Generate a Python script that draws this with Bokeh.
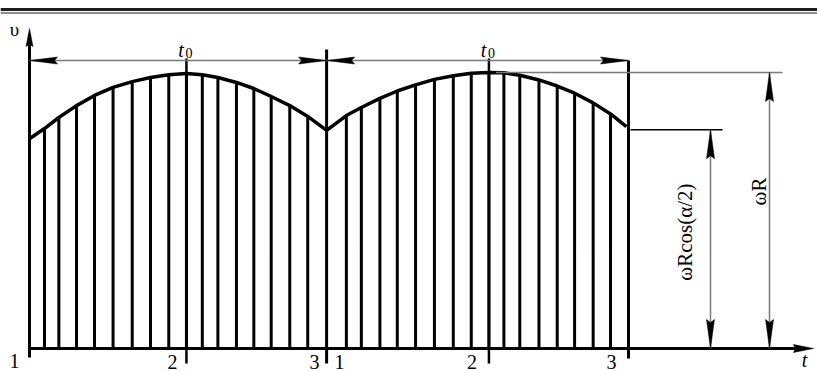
import numpy as np
from bokeh.plotting import figure
from bokeh.models import Range1d, Span
from bokeh.core.properties import value
from bokeh.embed import file_html
from bokeh.resources import INLINE

W, H = 817, 371

# Speed v(t) over two revolutions: t in units of t0, v in units of ωR.
rev1_t = [0.000, 0.050, 0.098, 0.157, 0.217, 0.279, 0.343, 0.404, 0.465,
          0.524, 0.577, 0.629, 0.691, 0.749, 0.807, 0.869, 0.929, 0.992]
rev1_v = [0.760, 0.797, 0.837, 0.880, 0.917, 0.946, 0.967, 0.982, 0.992,
          0.996, 0.992, 0.982, 0.964, 0.942, 0.913, 0.880, 0.841, 0.790]
rev2_t = [0.992, 1.058, 1.108, 1.170, 1.228, 1.289, 1.352, 1.415, 1.475,
          1.534, 1.584, 1.637, 1.701, 1.762, 1.820, 1.882, 1.940, 1.993]
rev2_v = [0.790, 0.844, 0.873, 0.906, 0.933, 0.955, 0.975, 0.988, 0.997,
          1.000, 0.999, 0.990, 0.973, 0.951, 0.925, 0.890, 0.850, 0.804]

rev_edges = [0.0, 0.992, 2.0]     # points 1 and 3 between revolutions
rev_mid = [0.524, 1.534]          # point 2 of each revolution
point_labels = ["1", "2", "3", "1", "2", "3"]
omega_R = 1.0                     # peak speed ωR
omega_R_cos = 0.793               # ωR·cos(α/2)

# ---- view: pixels per unit and origin placement
SX, SY = 299.5, 276.0
ORIGIN_X, ORIGIN_Y = 29.0, 348.0
x_start = -ORIGIN_X / SX
y_start = -(H - ORIGIN_Y) / SY
x_range = Range1d(x_start, x_start + W / SX)
y_range = Range1d(y_start, y_start + H / SY)


def dx(px):
    return px / SX


def dy(px):
    return px / SY


p = figure(width=W, height=H, x_range=x_range, y_range=y_range,
           x_axis_type=None, y_axis_type=None, output_backend="svg",
           toolbar_location=None, min_border=0)
p.grid.visible = False
p.outline_line_color = None
p.background_fill_color = "white"
p.border_fill_color = "white"

SERIF = value("Liberation Serif")
GRAY = "#7a7a7a"

# header double rule
p.add_layout(Span(location=omega_R + dy(63), dimension="width",
                  line_color="#1e1e1e", line_width=3))
p.add_layout(Span(location=omega_R + dy(59.5), dimension="width",
                  line_color="#666666", line_width=1.5))

# hatching under the curve (interior samples of each revolution)
hatch_t = rev1_t[1:-1] + rev2_t[1:-1]
hatch_v = rev1_v[1:-1] + rev2_v[1:-1]
p.segment(x0=hatch_t, y0=[0] * len(hatch_t), x1=hatch_t, y1=hatch_v,
          line_color="black", line_width=3)

# speed curve
p.line(rev1_t, rev1_v, line_color="black", line_width=3.5, line_join="round")
p.line(rev2_t, rev2_v, line_color="black", line_width=3.5, line_join="round")

dim_level = omega_R + dy(12)

# boundary lines between revolutions and at the end
p.segment(x0=[rev_edges[1]], y0=[-dy(15)], x1=[rev_edges[1]], y1=[omega_R + dy(23)],
          line_color="black", line_width=3)
p.segment(x0=[rev_edges[2]], y0=[-dy(10)], x1=[rev_edges[2]], y1=[dim_level],
          line_color="black", line_width=3)
# mid-revolution ticks (point 2)
p.segment(x0=rev_mid, y0=[-dy(15)] * 2, x1=rev_mid, y1=[omega_R + dy(14)] * 2,
          line_color="black", line_width=2.5)

# axes
axis_top = omega_R + dy(44)
t_axis_end = rev_edges[2] + dx(185)
p.segment(x0=[0], y0=[-dy(9)], x1=[0], y1=[axis_top - dy(6)],
          line_color="black", line_width=3)
p.segment(x0=[0], y0=[0], x1=[t_axis_end - dx(8)], y1=[0],
          line_color="black", line_width=3)

# dimension line t0
p.segment(x0=[rev_edges[0]], y0=[dim_level], x1=[rev_edges[2]], y1=[dim_level],
          line_color=GRAY, line_width=1.5)

# ωR and ωR·cos(α/2) extension and dimension lines
x_cos = rev_edges[2] + dx(82)
x_full = rev_edges[2] + dx(141)
p.segment(x0=[rev2_t[9] + dx(7)], y0=[omega_R], x1=[x_full + dx(13)], y1=[omega_R],
          line_color=GRAY, line_width=1.5)
p.segment(x0=[rev_edges[2] + dx(2)], y0=[omega_R_cos], x1=[x_cos + dx(12)],
          y1=[omega_R_cos], line_color="black", line_width=1.5)
p.segment(x0=[x_cos, x_full], y0=[0, 0], x1=[x_cos, x_full],
          y1=[omega_R_cos, omega_R], line_color=GRAY, line_width=1.5)

# arrowheads
heads_x, heads_y = [], []


def head(tx, ty, ux, uy, length, half, notch=3):
    px, py = -uy, ux
    bx, by = -ux * length, -uy * length
    nx, ny = -ux * (length - notch), -uy * (length - notch)
    pts = [(0, 0), (bx + px * half, by + py * half), (nx, ny),
           (bx - px * half, by - py * half)]
    heads_x.append([tx + dx(a) for a, b in pts])
    heads_y.append([ty + dy(b) for a, b in pts])


head(rev_edges[0], dim_level, -1, 0, 28, 3.5)
head(rev_edges[1], dim_level, 1, 0, 28, 3.5)
head(rev_edges[1], dim_level, -1, 0, 28, 3.5)
head(rev_edges[2], dim_level, 1, 0, 28, 3.5)
head(x_cos, omega_R_cos, 0, 1, 29, 4)
head(x_cos, 0, 0, -1, 29, 4)
head(x_full, omega_R, 0, 1, 29, 4)
head(x_full, 0, 0, -1, 29, 4)
head(0, axis_top, 0, 1, 18, 3.5, notch=2)
head(t_axis_end, 0, 1, 0, 20, 4, notch=2)
p.patches(heads_x, heads_y, fill_color="black", line_color="black", line_width=0.5)

# point labels along the t axis
label_anchor = [rev_edges[0], rev_mid[0], rev_edges[1], rev_edges[1], rev_mid[1], rev_edges[2]]
label_dx = [-15, -14, -12, 13, -17, -17]
label_dy = [-12.5, -13, -13, -13, -13, -13]
p.text(x=[a + dx(o) for a, o in zip(label_anchor, label_dx)],
       y=[dy(o) for o in label_dy], text=point_labels,
       text_font=SERIF, text_font_size=value("20px"), text_align="center",
       text_baseline="middle", text_color="black")

# axis names
p.text(x=[-dx(15)], y=[axis_top - dy(1)], text=["υ"], text_font=SERIF,
       text_font_size=value("19px"), text_align="center", text_baseline="middle")
p.text(x=[t_axis_end - dx(9)], y=[-dy(11.5)], text=["t"], text_font=SERIF,
       text_font_size=value("20px"), text_font_style="italic", text_align="center",
       text_baseline="middle")

# t0 labels above each revolution
p.text(x=[m - dx(5.5) for m in rev_mid], y=[dim_level + dy(11)] * 2, text=["t"] * 2,
       text_font=SERIF, text_font_size=value("20px"), text_font_style="italic",
       text_align="center", text_baseline="middle")
p.text(x=[m + dx(2.5) for m in rev_mid], y=[dim_level + dy(7.5)] * 2, text=["0"] * 2,
       text_font=SERIF, text_font_size=value("14px"), text_align="center",
       text_baseline="middle")

# vertical dimension labels
p.text(x=[x_cos - dx(26)], y=[omega_R_cos / 2 + dy(7)], text=["ωRcos(α/2)"],
       angle=np.pi / 2, text_font=SERIF, text_font_size=value("21px"),
       text_align="center", text_baseline="middle")
p.text(x=[x_full - dx(11)], y=[omega_R - dy(119)], text=["ωR"],
       angle=np.pi / 2, text_font=SERIF, text_font_size=value("21px"),
       text_align="center", text_baseline="middle")

open("out.html", "w").write(file_html(p, INLINE))
